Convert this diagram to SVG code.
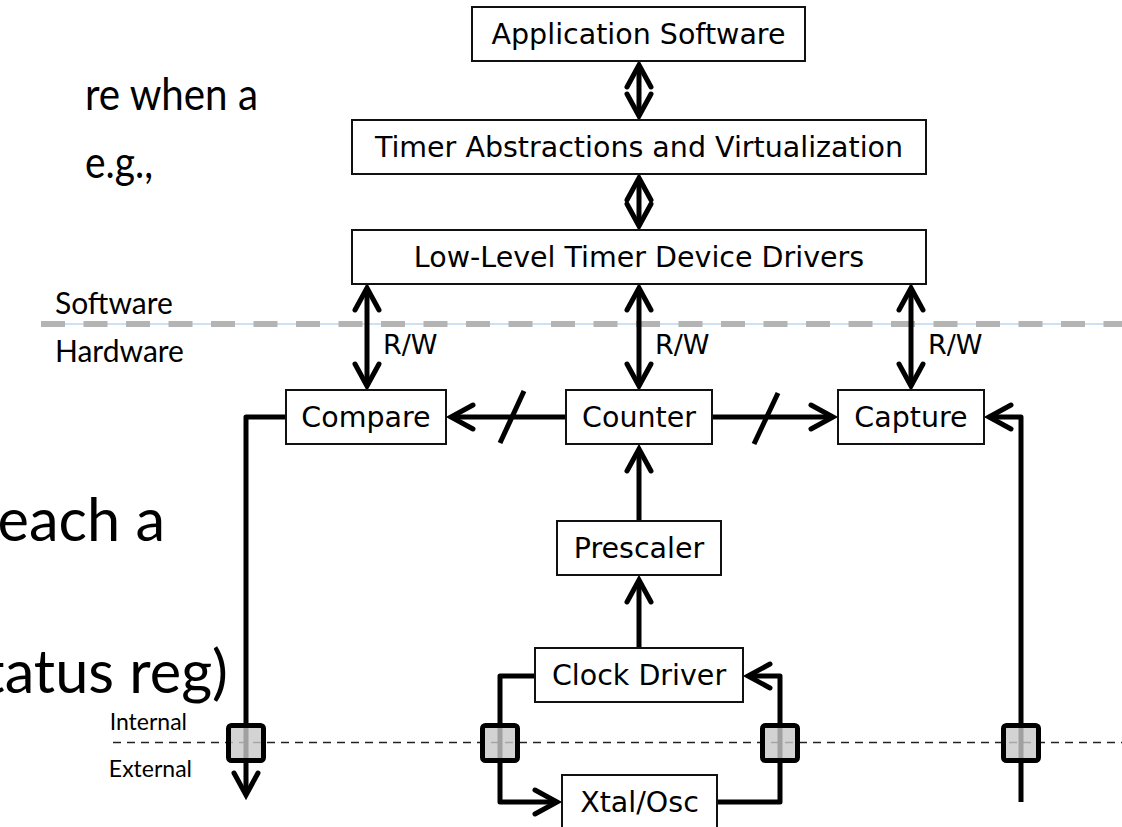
<svg xmlns="http://www.w3.org/2000/svg" width="1122" height="827" viewBox="0 0 1122 827">
  <style>
    .box { fill: #fff; stroke: #111; stroke-width: 2; }
    .lbl { font-family: "DejaVu Sans", Verdana, sans-serif; font-size: 28.5px; fill: #000; text-anchor: middle; }
    .rw { font-family: "DejaVu Sans", Verdana, sans-serif; font-size: 27px; fill: #000; }
    .side { font-family: Lato, "Liberation Sans", sans-serif; fill: #000; }
    .big { font-family: Lato, "Liberation Sans", sans-serif; fill: #000; }
    .wire { fill: none; stroke: #000; stroke-width: 5; stroke-linejoin: round; }
    .one { marker-end: url(#chev); }
    .two { marker-start: url(#chev); marker-end: url(#chev); }
    .pad { fill: #c8c8c8; fill-opacity: 0.8; stroke: #000; stroke-width: 5; }
  </style>
  <defs>
    <marker id="chev" markerUnits="userSpaceOnUse" viewBox="-30 -16 36 32" refX="0" refY="0" markerWidth="36" markerHeight="32" orient="auto-start-reverse" overflow="visible">
      <path d="M-22,-12 L0,0 L-22,12" fill="none" stroke="#000" stroke-width="5" stroke-linecap="round" stroke-linejoin="miter"/>
    </marker>
  </defs>

  <rect width="1122" height="827" fill="#fff"/>

  <!-- slide body text partly covered by the diagram -->
  <g id="body-text">
    <text class="big" x="85" y="110" font-size="45" textLength="173" lengthAdjust="spacingAndGlyphs">re when a</text>
    <text class="big" x="85" y="178" font-size="45" textLength="68" lengthAdjust="spacingAndGlyphs">e.g.,</text>
    <text class="big" x="165" y="541" font-size="59.5" text-anchor="end">reach a</text>
    <text class="big" x="228" y="693" font-size="59.5" text-anchor="end">status reg)</text>
  </g>

  <!-- software / hardware boundary -->
  <g id="sw-hw-boundary">
    <line x1="41" y1="324" x2="1122" y2="324" stroke="#9dc3e6" stroke-width="1"/>
    <line x1="41" y1="324" x2="1122" y2="324" stroke="#b4b4b4" stroke-width="6" stroke-dasharray="24 18.5"/>
    <text class="side" x="55" y="314" font-size="30">Software</text>
    <text class="side" x="55" y="362" font-size="30">Hardware</text>
  </g>

  <!-- internal / external boundary -->
  <g id="int-ext-boundary">
    <line x1="113" y1="742.5" x2="1122" y2="742.5" stroke="#222" stroke-width="1.5" stroke-dasharray="8 6"/>
    <text class="side" x="187" y="730" font-size="23" text-anchor="end">Internal</text>
    <text class="side" x="192" y="777" font-size="23" text-anchor="end">External</text>
  </g>

  <!-- connectors -->
  <g id="connectors">
    <path class="wire two" d="M639,65 L639,116"/>
    <path class="wire two" d="M639,178 L639,226"/>
    <path class="wire two" d="M367,288 L367,386"/>
    <path class="wire two" d="M639,288 L639,386"/>
    <path class="wire two" d="M911,288 L911,386"/>
    <path class="wire one" d="M566,417 L451,417"/>
    <path class="wire one" d="M712,417 L833,417"/>
    <path class="wire" d="M500,443 L524,391"/>
    <path class="wire" d="M754,444 L778,393"/>
    <path class="wire one" d="M286,417 L246,417 L246,795"/>
    <path class="wire one" d="M1021,802 L1021,417 L989,417"/>
    <path class="wire one" d="M639,521 L639,449"/>
    <path class="wire one" d="M639,648 L639,580"/>
    <path class="wire one" d="M535,676 L500,676 L500,802 L557,802"/>
    <path class="wire one" d="M717,802 L780,802 L780,676 L748,676"/>
    <text class="rw" x="383" y="354">R/W</text>
    <text class="rw" x="655" y="354">R/W</text>
    <text class="rw" x="928" y="354">R/W</text>
  </g>

  <!-- pins crossing the chip boundary -->
  <g id="pins">
    <rect class="pad" x="228.5" y="725.5" width="35" height="35" rx="3"/>
    <rect class="pad" x="482.5" y="725.5" width="35" height="35" rx="3"/>
    <rect class="pad" x="762.5" y="725.5" width="35" height="35" rx="3"/>
    <rect class="pad" x="1003.5" y="725.5" width="35" height="35" rx="3"/>
  </g>

  <!-- blocks -->
  <g id="app-software">
    <rect class="box" x="472" y="7" width="333" height="54"/>
    <text class="lbl" x="638.5" y="44">Application Software</text>
  </g>
  <g id="timer-abstractions">
    <rect class="box" x="352" y="120" width="574" height="54"/>
    <text class="lbl" x="639" y="157">Timer Abstractions and Virtualization</text>
  </g>
  <g id="low-level-drivers">
    <rect class="box" x="352" y="230" width="574" height="54"/>
    <text class="lbl" x="639" y="267">Low-Level Timer Device Drivers</text>
  </g>
  <g id="compare">
    <rect class="box" x="286" y="390" width="160" height="54"/>
    <text class="lbl" x="366" y="427">Compare</text>
  </g>
  <g id="counter">
    <rect class="box" x="566" y="390" width="146" height="54"/>
    <text class="lbl" x="639" y="427">Counter</text>
  </g>
  <g id="capture">
    <rect class="box" x="838" y="390" width="146" height="54"/>
    <text class="lbl" x="911" y="427">Capture</text>
  </g>
  <g id="prescaler">
    <rect class="box" x="557" y="521" width="164" height="54"/>
    <text class="lbl" x="639" y="558">Prescaler</text>
  </g>
  <g id="clock-driver">
    <rect class="box" x="535" y="648" width="208" height="54"/>
    <text class="lbl" x="639" y="685">Clock Driver</text>
  </g>
  <g id="xtal-osc">
    <rect class="box" x="562" y="775" width="155" height="60"/>
    <text class="lbl" x="639.5" y="812">Xtal/Osc</text>
  </g>
</svg>
